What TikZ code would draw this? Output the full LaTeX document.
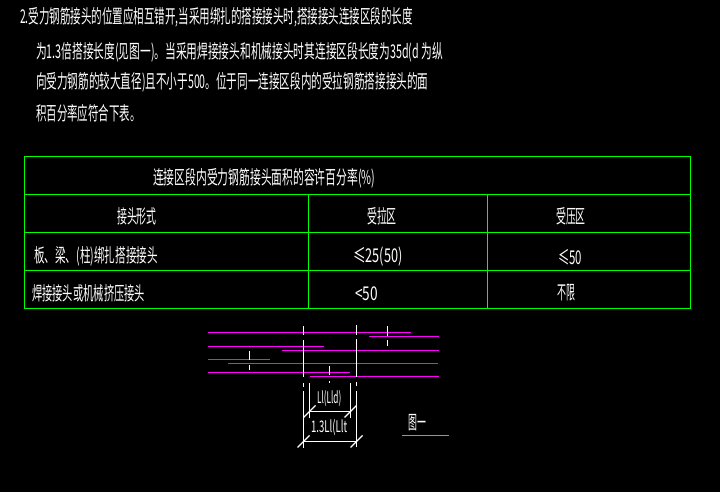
\documentclass[tikz,border=0pt]{standalone}
\usepackage{fontspec}
\newfontfamily\cjk{Noto Sans CJK SC}
\definecolor{cadgreen}{RGB}{0,255,0}
\definecolor{cadmagenta}{RGB}{255,0,255}
\tikzset{
  cadtext/.style = {anchor=west, inner sep=0pt, text=white, transform shape,
    font=\cjk\fontsize{19}{19}\selectfont},
  smalltext/.style = {font=\cjk\fontsize{16}{16}\selectfont},
  gridline/.style = {draw=cadgreen, line width=1.2pt},
  barline/.style = {draw=cadmagenta, line width=1.5pt},
  axisline/.style = {draw=white, line width=1.3pt}
}
\begin{document}
\begin{tikzpicture}[x=1pt, y=-1pt]
\useasboundingbox (0,0) rectangle (720,492);
\fill[black] (0,0) rectangle (720,492);
% notes
\begin{scope}[every node/.style = {cadtext}]
\node[xscale=.553] (noteA) at (20, 17) {2.受力钢筋接头的位置应相互错开,当采用绑扎的搭接接头时,搭接接头连接区段的长度};
\node[xscale=.564] (noteB) at (36, 52) {为1.3倍搭接长度(见图一)。当采用焊接接头和机械接头时其连接区段长度为35d(d 为纵};
\node[xscale=.558] (noteC) at (36, 82) {向受力钢筋的较大直径)且不小于500。位于同一连接区段内的受拉钢筋搭接接头的面};
\node[xscale=.55] (noteD) at (36, 113) {积百分率应符合下表。};
\end{scope}
% table
\draw[gridline] (24.5, 156.5) rectangle (690.5, 308.5);
\foreach \rowy in {194.5, 232.5, 270.5}
  \draw[gridline] (24.5, \rowy) -- (690.5, \rowy);
\foreach \colx in {308.5, 487.5}
  \draw[gridline] (\colx, 194.5) -- (\colx, 308.5);
\begin{scope}[every node/.style = {cadtext}]
\node[xscale=.568] (title) at (153, 178) {连接区段内受力钢筋接头面积的容许百分率(\%)};
\node[xscale=.522] (kind) at (117, 216) {接头形式};
\node[xscale=.522] (tension) at (367, 216) {受拉区};
\node[xscale=.522] (press) at (556, 216) {受压区};
\node[xscale=.558] (tied) at (34, 256) {板、梁、(柱)绑扎搭接接头};
\node[xscale=.67] (tiedA) at (353, 257) {≤25(50)};
\node[xscale=.6] (tiedB) at (558, 257) {≤50};
\node[xscale=.541] (weld) at (32, 293) {焊接接头或机械挤压接头};
\node[xscale=.72] (weldA) at (355, 294) {<50};
\node[xscale=.47] (weldB) at (557, 293) {不限};
\end{scope}
% bars
\foreach \ya/\xa/\xb in {332.5/208/411, 336.5/369/439, 346.5/208/324, 350.5/282/439,
    359.5/208/270, 363.5/228/438, 372.5/208/350, 376.5/310/439}
  \draw[barline] (\xa, \ya) -- (\xb, \ya);
% centre lines
\foreach \xa/\ya/\yb in {303.5/326/335, 303.5/340/377, 303.5/383/387, 303.5/391/448,
    356.5/325/335, 356.5/339/377, 356.5/382/386, 356.5/391/447,
    387.5/326/336, 387.5/340/346, 249.5/351/360, 249.5/365/370,
    329.5/366/375, 329.5/381/383}
  \draw[axisline] (\xa, \ya) -- (\xa, \yb);
% dimensions
\draw[axisline] (309.5, 383) -- (309.5, 418);
\draw[axisline] (350.5, 383) -- (350.5, 418);
\draw[axisline] (309.5, 411.5) -- (350.5, 411.5);
\draw[axisline] (303.5, 441.5) -- (356.5, 441.5);
\foreach \xa/\ya in {309.5/411.5, 350.5/411.5, 303.5/441.5, 356.5/441.5}
  \draw[axisline] (\xa-6, \ya+6) -- (\xa+6, \ya-6);
\begin{scope}[every node/.style = {cadtext}]
\node[smalltext, xscale=.513] (lapA) at (317, 399) {Ll(Lld)};
\node[smalltext, xscale=.6] (lapB) at (311, 428) {1.3Ll(Llt};
\node[xscale=.47] (figname) at (408, 423) {图一};
\end{scope}
\draw[gridline] (402, 435.5) -- (449, 435.5);
\end{tikzpicture}
\end{document}
